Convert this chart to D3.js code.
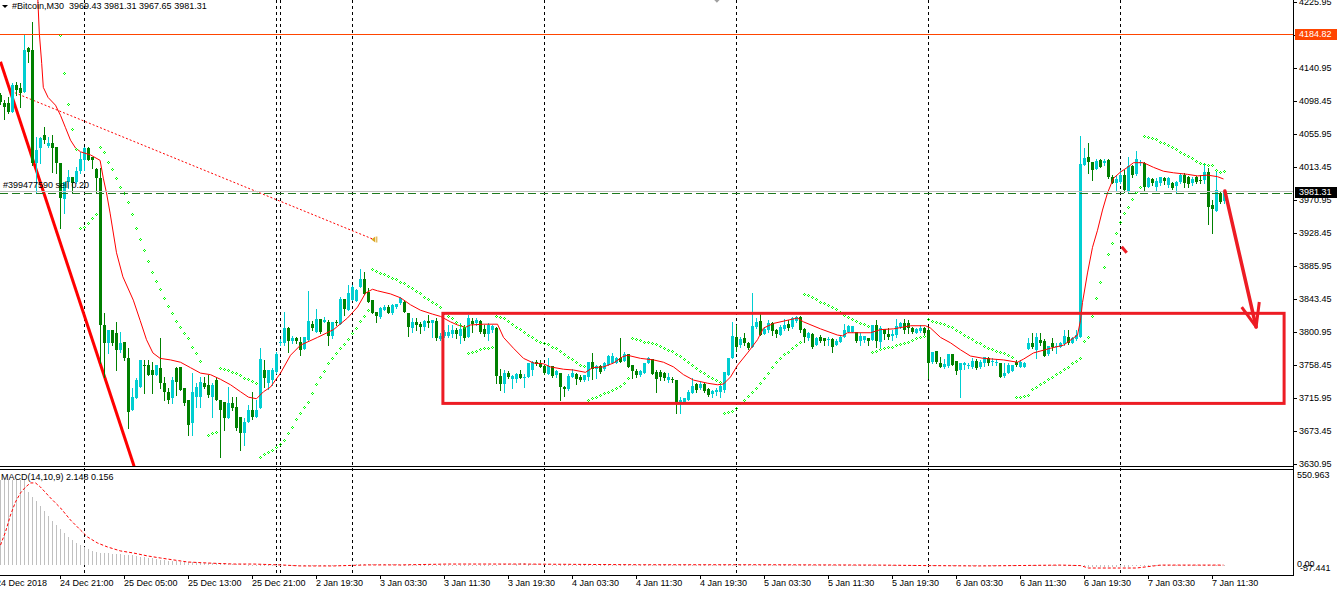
<!DOCTYPE html>
<html><head><meta charset="utf-8">
<script src="https://cdn.jsdelivr.net/npm/d3@7"></script>
<style>
html,body{margin:0;padding:0;background:#fff;overflow:hidden}
svg{display:block}
text{font-family:"Liberation Sans",Arial,sans-serif;font-size:9px;fill:#000}
</style></head><body><svg id="c" width="1341" height="593"></svg>
<script>
// ---------- DATA ----------
const openP = [4106,4096,4096,4084,4119,4115,4110,4167,4164,4019,
4038,4055,4040,4044,4039,4019,3972,3994,4001,3994,
4008,4022,4038,4026,4011,3999,3810,3787,3804,3800,
3778,3788,3767,3700,3716,3730,3758,3758,3752,3746,
3755,3735,3724,3716,3755,3756,3729,3713,3684,3717,
3717,3735,3733,3717,3739,3713,3711,3690,3709,3704,
3691,3671,3685,3700,3691,3703,3752,3735,3739,3749,
3787,3787,3806,3789,3793,3788,3779,3791,3811,3801,
3818,3814,3814,3796,3814,3811,3843,3829,3842,3841,
3859,3869,3852,3842,3827,3820,3829,3833,3825,3833,
3838,3839,3825,3806,3814,3811,3807,3815,3812,3815,
3792,3796,3796,3798,3804,3796,3806,3794,3815,3812,
3815,3805,3798,3804,3806,3744,3734,3748,3740,3740,
3747,3742,3743,3752,3762,3761,3757,3747,3757,3746,
3748,3730,3727,3743,3747,3743,3739,3743,3762,3753,
3757,3753,3758,3761,3761,3767,3764,3773,3758,3751,
3746,3748,3761,3766,3749,3749,3748,3739,3740,3739,
3711,3711,3713,3722,3734,3729,3734,3727,3721,3724,
3724,3726,3746,3767,3794,3784,3793,3787,3782,3807,
3815,3798,3804,3812,3804,3797,3805,3811,3807,3815,
3820,3805,3793,3798,3784,3794,3793,3791,3792,3784,
3788,3794,3801,3801,3801,3789,3791,3793,3791,3810,
3788,3805,3798,3796,3797,3807,3812,3812,3806,3800,
3802,3806,3804,3762,3776,3761,3756,3757,3773,3764,
3752,3758,3757,3756,3764,3756,3761,3767,3762,3761,
3761,3744,3748,3751,3762,3756,3756,3779,3787,3778,
3791,3789,3773,3787,3782,3782,3786,3794,3787,3792,
3794,4016,4026,4020,4011,4022,4019,4022,4001,3993,
3994,4003,3983,4015,4004,4019,4019,3988,3998,3988,
3993,3999,3990,3993,3989,3994,4003,4001,3993,4001,
3997,3997,4007,3964,3957,3980,3969.43];
const highP = [4109,4100,4104,4122,4123,4122,4183,4168,4200,4052,
4052,4065,4052,4055,4039,4019,3994,4010,4001,4013,
4033,4039,4039,4026,4012,4012,3825,3804,3804,3814,
3801,3788,3780,3729,3742,3765,3765,3765,3762,3758,
3793,3743,3729,3743,3756,3756,3729,3713,3748,3735,
3743,3743,3746,3735,3743,3713,3711,3730,3717,3717,
3691,3690,3707,3724,3713,3780,3765,3752,3755,3775,
3792,3827,3807,3796,3794,3794,3794,3854,3815,3830,
3818,3820,3816,3814,3816,3846,3843,3862,3862,3856,
3882,3878,3858,3842,3827,3833,3836,3836,3837,3837,
3846,3842,3825,3819,3819,3814,3816,3823,3816,3819,
3800,3804,3810,3810,3806,3812,3810,3823,3819,3819,
3816,3810,3812,3810,3807,3753,3752,3751,3746,3748,
3752,3747,3761,3764,3765,3765,3758,3767,3757,3752,
3748,3731,3747,3753,3748,3746,3746,3762,3774,3758,
3758,3762,3771,3774,3769,3793,3775,3773,3758,3753,
3752,3761,3769,3766,3752,3752,3749,3748,3743,3739,
3717,3716,3726,3742,3735,3736,3735,3729,3726,3729,
3733,3749,3767,3814,3810,3794,3800,3788,3851,3819,
3825,3807,3816,3814,3805,3810,3818,3816,3820,3821,
3821,3806,3801,3800,3794,3797,3793,3794,3793,3792,
3796,3811,3810,3809,3801,3800,3796,3793,3810,3816,
3809,3805,3806,3804,3818,3814,3818,3816,3807,3806,
3810,3807,3807,3775,3776,3769,3766,3773,3773,3764,
3761,3762,3761,3767,3766,3765,3769,3769,3767,3766,
3761,3761,3761,3758,3765,3765,3762,3793,3800,3800,
3800,3792,3783,3793,3787,3788,3804,3804,3794,3804,
4053,4038,4044,4020,4024,4024,4024,4024,4003,4002,
4010,4010,4026,4016,4034,4022,4020,4001,3999,3999,
4001,4001,4001,3994,3995,4006,4006,4002,4001,4002,
4003,4019,4012,3971,4007,3981,3981.31];
const lowP = [4095,4075,4083,4084,4106,4091,4110,4149,4016,3980,
4019,4044,4039,4007,4006,3935,3954,3986,3981,3993,
4006,4010,4022,4012,3981,3761,3743,3774,3784,3752,
3775,3765,3677,3700,3716,3730,3722,3746,3722,3746,
3729,3713,3709,3709,3720,3726,3707,3668,3668,3704,
3704,3729,3717,3691,3713,3640,3675,3690,3700,3675,
3649,3655,3685,3689,3691,3703,3730,3727,3733,3748,
3784,3784,3775,3787,3787,3771,3779,3791,3804,3801,
3800,3814,3784,3793,3810,3811,3823,3829,3842,3841,
3859,3850,3839,3825,3814,3819,3829,3825,3824,3832,
3837,3827,3796,3801,3804,3800,3804,3807,3794,3791,
3791,3794,3794,3794,3793,3787,3791,3794,3801,3810,
3800,3796,3791,3801,3735,3726,3724,3742,3729,3736,
3742,3730,3743,3746,3758,3756,3747,3747,3743,3743,
3713,3718,3726,3743,3734,3738,3738,3739,3740,3742,
3748,3752,3758,3761,3761,3762,3764,3756,3742,3743,
3744,3748,3761,3747,3724,3739,3739,3736,3736,3697,
3697,3711,3713,3722,3724,3727,3724,3718,3717,3720,
3717,3724,3746,3767,3776,3782,3784,3779,3782,3806,
3797,3798,3801,3797,3794,3797,3804,3804,3806,3814,
3801,3788,3791,3780,3784,3788,3784,3784,3775,3784,
3788,3794,3801,3801,3788,3784,3788,3784,3791,3782,
3782,3792,3792,3791,3794,3806,3800,3800,3800,3800,
3801,3797,3742,3761,3761,3756,3755,3756,3758,3747,
3717,3753,3755,3755,3753,3755,3757,3758,3758,3758,
3743,3743,3748,3751,3757,3756,3756,3779,3780,3767,
3784,3770,3771,3778,3774,3782,3784,3786,3787,3791,
3794,4016,4006,3997,4011,4013,4016,3999,3993,3984,
3993,3981,3981,4001,4003,4016,3983,3988,3990,3983,
3990,3992,3988,3985,3981,3993,3988,3988,3990,3993,
3993,3993,3940,3928,3957,3967,3967.65];
const closeP = [4097,4091,4084,4119,4113,4109,4164,4162,4019,4035,
4051,4048,4044,4038,4019,3973,3994,4001,3993,4008,
4024,4038,4022,4022,3999,3810,3787,3804,3787,3778,
3787,3767,3698,3717,3739,3765,3757,3746,3746,3758,
3735,3724,3713,3739,3736,3726,3709,3681,3724,3730,
3736,3730,3720,3733,3713,3700,3690,3709,3703,3677,
3671,3685,3700,3691,3700,3766,3742,3752,3752,3773,
3788,3806,3789,3793,3789,3778,3794,3815,3806,3818,
3801,3816,3796,3814,3812,3843,3830,3851,3859,3855,
3869,3850,3839,3825,3821,3832,3833,3825,3836,3837,
3845,3827,3807,3814,3810,3807,3815,3812,3816,3793,
3796,3801,3801,3804,3798,3805,3793,3819,3811,3816,
3801,3798,3810,3809,3744,3734,3748,3743,3744,3747,
3742,3743,3761,3762,3760,3756,3748,3757,3744,3751,
3730,3727,3744,3748,3740,3739,3746,3762,3753,3757,
3749,3761,3770,3770,3767,3762,3773,3756,3751,3746,
3751,3761,3767,3747,3740,3743,3742,3743,3739,3711,
3714,3716,3724,3731,3726,3734,3725,3720,3725,3726,
3731,3749,3767,3796,3782,3792,3787,3780,3809,3814,
3797,3805,3812,3802,3798,3807,3810,3806,3819,3820,
3804,3794,3800,3782,3793,3789,3789,3792,3782,3789,
3794,3804,3809,3809,3789,3796,3796,3789,3810,3789,
3806,3798,3794,3798,3809,3812,3804,3806,3801,3805,
3806,3800,3761,3775,3762,3756,3760,3773,3758,3751,
3761,3761,3758,3764,3755,3762,3769,3761,3764,3762,
3743,3748,3758,3758,3758,3762,3761,3787,3782,3794,
3787,3770,3783,3782,3783,3787,3796,3787,3793,3797,
4017,4025,4020,4010,4021,4013,4021,4001,3993,3998,
4003,3984,4015,4003,4024,4020,3988,3999,3993,3995,
4001,3995,3999,3986,3994,4003,3993,3992,3998,3994,
3995,4007,3962,3959,3984,3968,3981.31];
// Parabolic SAR (null = no dot)
const sar = [null,null,null,null,null,null,null,null,null,null,
null,null,null,null,null,4183,4135,4095,4062,4037,
3935,3936,3941,3948,3953,4039,4033,4020,4011,3999,
3988,3980,3968,3953,3935,3921,3907,3892,3878,3867,
3856,3845,3834,3825,3815,3807,3800,3793,3782,3774,
3764,null,3668,3671,3672,3755,3753,3752,3749,3748,
3746,3742,3740,3738,3735,3640,3644,3646,3649,3653,
3657,3662,3671,3679,3689,3697,3704,3711,3722,3734,
3743,3751,3761,3767,3774,3780,3786,3792,3800,3806,
3815,3821,3829,3882,3880,3877,3876,3873,3870,3869,
3865,3864,3860,3858,3854,3851,3846,3843,3839,3837,
3833,3825,3821,3819,3814,3810,3807,3774,3775,3776,
3779,3780,3780,3782,3821,3820,3819,3815,3811,3807,
3805,3801,3797,3794,3791,3788,3787,3786,3782,3780,
3776,3773,3769,3766,3762,3758,3757,3714,3716,3717,
3720,3722,3724,3726,3729,3731,3735,3742,3793,3792,
3791,3788,3788,3787,3786,3783,3780,3778,3776,3773,
3770,3766,3762,3758,3755,3751,3748,3744,3742,3739,
3736,3697,3698,3699,3703,3709,3714,3718,3724,3729,
3735,3742,3748,3756,3762,3767,3773,3775,3780,3784,
3788,3850,3849,3846,3843,3839,3838,3836,3833,3830,
3827,3823,3820,3818,3815,3812,3811,3809,3775,3776,
3779,3780,3782,3782,3784,3786,3787,3788,3791,3793,
3794,3796,3818,3815,3814,3812,3811,3809,3807,3804,
3801,3797,3794,3792,3788,3787,3783,3780,3779,3776,
3775,3774,3771,3769,3717,3717,3718,3720,3727,3730,
3734,3736,3740,3743,3747,3749,3753,3756,3761,3764,
3767,3789,3794,3821,3845,3865,3885,3901,3916,3928,
3943,3954,3962,3972,3981,3988,4053,4052,4051,4049,
4046,4044,4042,4039,4037,4033,4030,4028,4025,4021,
4019,4017,4016,4016,4010,4007,4008];
// Moving average: [bar, price]
const maLine = [[9.2,4245],[9.7,4186],[10.3,4147],[10.7,4116],[11.9,4103],[13.75,4093],[15,4080],[16.25,4064],[17.5,4048],[18.75,4038],[20,4033],[22.5,4029],[24.9,4022],[25.7,3999],[26.5,3980],[27.4,3954],[29,3903],[30.6,3872],[33.2,3842],[34.9,3816],[36.5,3791],[38.1,3774],[39.9,3767],[42.5,3765],[45,3762],[47.5,3755],[50,3748],[52.5,3746],[55,3740],[57.5,3733],[60,3724],[62,3717],[64,3715],[65.75,3724],[67.5,3730],[70,3748],[72.5,3771],[75,3784],[79.25,3794],[83.25,3804],[86.75,3819],[89.25,3833],[91.25,3851],[93,3856],[94.25,3854],[97.5,3850],[100,3845],[102.5,3836],[105,3829],[108,3824],[110,3821],[112.5,3814],[114.25,3810],[116.25,3807],[117.5,3810],[120.75,3811],[124.25,3811],[125.75,3794],[128.25,3780],[130.75,3767],[133.25,3761],[135.75,3760],[137.5,3756],[140.75,3753],[143.25,3752],[146.25,3749],[148,3755],[150.75,3756],[153.25,3761],[155.5,3769],[156.75,3771],[160,3767],[163.25,3765],[165.75,3762],[168.25,3756],[170.75,3746],[173.25,3739],[176.75,3735],[179.25,3733],[180.75,3734],[182.5,3743],[184.25,3758],[186.75,3774],[189.25,3791],[190.75,3806],[193.25,3812],[199.25,3819],[200.75,3814],[205,3805],[209.25,3797],[210.5,3796],[211.75,3800],[217.5,3800],[220,3804],[223.25,3805],[227.5,3809],[231.25,3809],[232.5,3806],[235,3794],[237.5,3787],[240,3778],[242.5,3770],[245.75,3767],[250.75,3765],[254.25,3762],[255.75,3766],[258.25,3774],[262.5,3780],[265.75,3784],[269.25,3797],[270,3816],[270.5,3839],[271.75,3877],[273,3910],[274.25,3932],[275.5,3958],[276.75,3980],[278.25,3999],[280,4007],[281.75,4013],[283.25,4019],[285.75,4019],[288.25,4013],[290.75,4008],[293.25,4006],[296.75,4004],[299.25,4002],[301.75,4003],[304.25,4001],[305.75,3998]];
// MACD histogram per bar
const macdHist = [493,493,493,493,493,493,493,424,395,371,
342,313,284,255,232,209,186,163,145,128,
116,105,93,82,76,70,70,70,64,64,
64,58,58,58,53,47,47,41,41,35,
30,30,24,24,24,18,18,18,18,18,
12,12,12,12,12,12,12,8,6,6,
6,4,2,2,2,2,2,2,2,2,
2,2,2,2,2,2,2,2,2,2,
2,2,2,2,2,2,3,3,4,4,
4,5,5,5,5,5,4,4,4,4,
3,3,3,3,3,3,3,3,3,3,
3,3,3,3,3,3,3,3,3,3,
3,3,3,3,3,4,5,6,8,9,
10,10,9,8,7,6,5,4,3,3,
2,2,2,2,2,2,2,2,2,2,
2,2,2,2,2,2,2,2,2,2,
2,2,2,2,2,2,2,2,2,2,
2,2,2,2,2,2,2,2,2,2,
2,2,2,2,2,2,2,2,2,2,
2,2,2,2,2,2,2,2,2,2,
2,2,2,2,2,2,2,2,2,2,
2,2,2,2,2,2,2,2,2,2,
2,2,2,2,2,2,2,2,2,2,
1,1,1,1,1,1,1,1,1,1,
1,1,1,1,1,1,1,1,1,1,
1,1,1,1,1,1,1,1,1,1,
1,1,1,1,1,1,1,1,1,1,
-3,-8,-10,-12,-12,-12,-12,-12,-12,-12,
-12,-12,-10,-8,-6,-4,-3,-2,-2,-2,
-1,-1,-1,-1,-1,-1,-1,-1,-1,-1,
-1,-1,-1,-1,-1,-1,-1];
// MACD signal line: [bar, value]
const macdSignal = [[0,116],[1.25,192],[2.5,290],[3.75,366],[5,418],[6.25,452],[7.5,476],[8.75,476],[10,452],[12.5,389],[15,331],[17.5,261],[20,203],[21.75,163],[24.25,128],[26.75,105],[30,82],[33.25,70],[36.75,53],[40,41],[43.25,30],[46.75,18],[51.75,12],[58.25,6],[63.25,6],[70,1],[75,-5],[83.25,-5],[91.75,1],[100,1],[111.75,6],[130,6],[160,2],[190,2],[220,0],[232,-3],[245,-5],[265,0],[270,-3],[272,-17],[280,-17],[284,-17],[290,0],[305.75,0]];
const priceTicks = [4225.95,4183.45,4140.95,4098.45,4055.95,4013.45,3970.95,3928.45,3885.95,3843.45,3800.95,3758.45,3715.95,3673.45,3630.95];
const priceDomain = [3630.95, 4225.95];
const macdDomain = [-57.441, 550.963];
const timeTickBars = [-1,15,31,47,63,79,95,111,127,143,159,175,191,207,223,239,255,271,287,303];
const timeTickLabels = ["24 Dec 2018","24 Dec 21:00","25 Dec 05:00","25 Dec 13:00","25 Dec 21:00","2 Jan 19:30","3 Jan 03:30","3 Jan 11:30","3 Jan 19:30","4 Jan 03:30","4 Jan 11:30","4 Jan 19:30","5 Jan 03:30","5 Jan 11:30","5 Jan 19:30","6 Jan 03:30","6 Jan 11:30","6 Jan 19:30","7 Jan 03:30","7 Jan 11:30"];
const daySeparatorBars = [21,69,70,88,136,184,232,280];
const levelPrice = 4184.82;
const bidPrice = 3981.31;
const orderPrice = 3980;
const titleText = "#Bitcoin,M30  3969.43 3981.31 3967.65 3981.31";
const macdText = "MACD(14,10,9) 2.148 0.156";
const orderText = "#399477590 sell 0.20";
// Drawn objects in [bar, price]
const thickTrend = [[0,4149],[33.4,3628]];
const dottedTrend = [[3.6,4109],[92.9,3921]];
const stopMark = [93.2,3920];
const boxZone = [[110.6,3825],[320.9,3709]];
const bigArrow = [[306.1,3982.5],[313.9,3807.4]];
const bigArrowHeadL = [310.3,3833];
const bigArrowHeadR = [314.7,3839.6];
const smallStroke = [[280.3,3910.8],[281.55,3903.1]];
const markerTop = [179.1,4229];

// ---------- LAYOUT ----------
const W = 1341, H = 593;
const plotRight = 1293;
const mainTop = 0, mainBottom = 466;
const macdTop = 469, macdBottom = 575;
const BULL = "#00CED1", BEAR = "#008000", SARC = "#00FF00", RED = "#ED1C24";

const svg = d3.select("#c");
const N = closeP.length;
const x = d3.scaleLinear().domain([0, N - 1]).range([0.5, 4 * (N - 1) + 0.5]);
const y = d3.scaleLinear().domain(priceDomain).range([464, 2]);
const ym = d3.scaleLinear().domain(macdDomain).range([575, 470]);

const defs = svg.append("defs");
defs.append("clipPath").attr("id","cm").append("rect").attr("x",0).attr("y",0).attr("width",plotRight).attr("height",mainBottom);
defs.append("clipPath").attr("id","cd").append("rect").attr("x",0).attr("y",macdTop+1).attr("width",plotRight).attr("height",macdBottom-macdTop-1);

svg.append("rect").attr("width",W).attr("height",H).attr("fill","#fff");

// day separators
svg.append("g").selectAll("line").data(daySeparatorBars).join("line")
  .attr("x1",d=>Math.floor(x(d))+0.5).attr("x2",d=>Math.floor(x(d))+0.5)
  .attr("y1",0).attr("y2",macdBottom)
  .attr("stroke","#000").attr("stroke-width",1).attr("stroke-dasharray","3,3")
  .attr("shape-rendering","crispEdges");

const gm = svg.append("g").attr("clip-path","url(#cm)");

// thick red trend line
const lineP = d3.line().x(d=>x(d[0])).y(d=>y(d[1]));
gm.append("path").attr("d",lineP(thickTrend)).attr("stroke","#FF0000").attr("stroke-width",3).attr("fill","none");
// dotted trend line
gm.append("path").attr("d",lineP(dottedTrend)).attr("stroke","#FF0000").attr("stroke-width",1).attr("stroke-dasharray","2,2").attr("fill","none");
// stop marker
{
  const sx = x(stopMark[0]), sy = y(stopMark[1]);
  gm.append("path").attr("d",`M${sx-2},${sy} L${sx+2},${sy-3} L${sx+2},${sy+3} Z M${sx+3},${sy-3} L${sx+4},${sy-3} L${sx+4},${sy+3} L${sx+3},${sy+3} Z`).attr("fill","#DAA520");
}

// candles
const idx = d3.range(N);
const cg = gm.append("g").attr("shape-rendering","crispEdges");
cg.selectAll("rect.w").data(idx).join("rect").attr("class","w")
  .attr("x",i=>Math.floor(x(i))).attr("width",1)
  .attr("y",i=>Math.round(y(highP[i])))
  .attr("height",i=>Math.max(1,Math.round(y(lowP[i]))-Math.round(y(highP[i]))+1))
  .attr("fill",i=>closeP[i]>=openP[i]?BULL:BEAR);
cg.selectAll("rect.b").data(idx).join("rect").attr("class","b")
  .attr("x",i=>Math.floor(x(i))-1).attr("width",3)
  .attr("y",i=>Math.round(y(Math.max(openP[i],closeP[i]))))
  .attr("height",i=>Math.max(1,Math.round(y(Math.min(openP[i],closeP[i])))-Math.round(y(Math.max(openP[i],closeP[i])))))
  .attr("fill",i=>closeP[i]>=openP[i]?BULL:BEAR);

// moving average
gm.append("path").attr("d",lineP(maLine)).attr("stroke","#FF0000").attr("stroke-width",1).attr("fill","none");

// SAR dots (hollow diamonds)
gm.append("g").selectAll("path").data(idx.filter(i=>sar[i]!=null)).join("path")
  .attr("d",i=>{const cx=Math.floor(x(i)), cy=Math.round(y(sar[i]));
    return `M${cx-1},${cy}h1v1h-1zM${cx+1},${cy}h1v1h-1zM${cx},${cy-1}h1v1h-1zM${cx},${cy+1}h1v1h-1z`;})
  .attr("fill",SARC).attr("shape-rendering","crispEdges");

// horizontal level lines
gm.append("line").attr("x1",0).attr("x2",plotRight).attr("y1",Math.round(y(levelPrice))+0.5).attr("y2",Math.round(y(levelPrice))+0.5).attr("stroke","#FF4500").attr("shape-rendering","crispEdges");
gm.append("line").attr("x1",0).attr("x2",plotRight).attr("y1",Math.round(y(orderPrice))+0.5).attr("y2",Math.round(y(orderPrice))+0.5).attr("stroke","#1E7A1E").attr("stroke-dasharray","8,4").attr("shape-rendering","crispEdges");
gm.append("line").attr("x1",0).attr("x2",plotRight).attr("y1",Math.round(y(bidPrice))-0.5).attr("y2",Math.round(y(bidPrice))-0.5).attr("stroke","#C0C0C0").attr("shape-rendering","crispEdges");
gm.append("text").attr("x",3).attr("y",y(orderPrice)-7).attr("dominant-baseline","middle").text(orderText).attr("fill","#333");

// box zone
gm.append("rect").attr("x",x(boxZone[0][0])).attr("y",y(boxZone[0][1]))
  .attr("width",x(boxZone[1][0])-x(boxZone[0][0])).attr("height",y(boxZone[1][1])-y(boxZone[0][1]))
  .attr("fill","none").attr("stroke",RED).attr("stroke-width",3);
// big arrow
gm.append("path").attr("d",lineP(bigArrow)).attr("stroke",RED).attr("stroke-width",3.5).attr("fill","none").attr("stroke-linecap","round");
gm.append("path").attr("d",lineP([bigArrowHeadL,bigArrow[1],bigArrowHeadR])).attr("stroke",RED).attr("stroke-width",3).attr("fill","none").attr("stroke-linejoin","round");
gm.append("path").attr("d",lineP(smallStroke)).attr("stroke",RED).attr("stroke-width",3).attr("fill","none");
// top marker
{
  const mx = x(markerTop[0]), my = y(markerTop[1]);
  gm.append("path").attr("d",`M${mx-3},${my} L${mx},${my-3} L${mx+3},${my} L${mx},${my+3} Z`).attr("fill","#A0A0A0");
}

// MACD panel
const gd = svg.append("g").attr("clip-path","url(#cd)");
gd.append("g").attr("shape-rendering","crispEdges").selectAll("rect").data(idx).join("rect")
  .attr("x",i=>Math.floor(x(i))).attr("width",1)
  .attr("y",i=>Math.round(Math.min(ym(0),ym(macdHist[i]))))
  .attr("height",i=>Math.max(1,Math.round(Math.abs(ym(0)-ym(macdHist[i])))))
  .attr("fill","#C0C0C0");
gd.append("path").attr("d",d3.line().x(d=>x(d[0])).y(d=>ym(d[1]))(macdSignal))
  .attr("stroke","#FF0000").attr("stroke-width",1).attr("stroke-dasharray","3,2").attr("fill","none");

// frames
const fr = svg.append("g").attr("stroke","#000").attr("shape-rendering","crispEdges");
fr.append("line").attr("x1",0).attr("x2",plotRight).attr("y1",mainBottom+0.5).attr("y2",mainBottom+0.5);
fr.append("line").attr("x1",0).attr("x2",plotRight).attr("y1",macdTop+0.5).attr("y2",macdTop+0.5);
fr.append("line").attr("x1",0).attr("x2",plotRight).attr("y1",macdBottom+0.5).attr("y2",macdBottom+0.5);
fr.append("line").attr("x1",plotRight+0.5).attr("x2",plotRight+0.5).attr("y1",0).attr("y2",macdBottom+1);

// right price axis
const ax = svg.append("g");
ax.selectAll("line").data(priceTicks).join("line")
  .attr("x1",plotRight).attr("x2",plotRight+4).attr("y1",d=>Math.round(y(d))+0.5).attr("y2",d=>Math.round(y(d))+0.5)
  .attr("stroke","#000").attr("shape-rendering","crispEdges");
ax.selectAll("text").data(priceTicks).join("text")
  .attr("x",plotRight+6).attr("y",d=>y(d)+0.5).attr("dominant-baseline","middle").text(d=>d.toFixed(2));
// value boxes
function valueBox(price, bg){
  const cy = Math.round(y(price));
  svg.append("rect").attr("x",plotRight+2).attr("y",cy-5).attr("width",42).attr("height",11).attr("fill",bg).attr("shape-rendering","crispEdges");
  svg.append("text").attr("x",plotRight+6).attr("y",cy+0.5).attr("dominant-baseline","middle").attr("fill","#fff").style("fill","#fff").text(price.toFixed(2));
}
valueBox(levelPrice,"#FF4500");
valueBox(bidPrice,"#000");
// MACD axis labels
svg.append("text").attr("x",plotRight+4).attr("y",ym(macdDomain[1])+6).attr("dominant-baseline","middle").text(macdDomain[1].toFixed(3));
svg.append("text").attr("x",plotRight+7).attr("y",ym(macdDomain[0])-6).attr("dominant-baseline","middle").text(macdDomain[0].toFixed(3));
svg.append("text").attr("x",plotRight+4).attr("y",ym(0)).attr("dominant-baseline","middle").text("0.00");

// time axis
const tx = svg.append("g");
tx.selectAll("line").data(timeTickBars).join("line")
  .attr("x1",d=>Math.floor(x(d))+0.5).attr("x2",d=>Math.floor(x(d))+0.5).attr("y1",macdBottom).attr("y2",macdBottom+4)
  .attr("stroke","#000").attr("shape-rendering","crispEdges");
tx.selectAll("text").data(timeTickBars).join("text")
  .attr("x",d=>Math.floor(x(d))).attr("y",584).attr("dominant-baseline","middle").text((d,k)=>timeTickLabels[k]);

// titles
svg.append("path").attr("d","M2,5 L8,5 L5,8 Z").attr("fill","#000");
svg.append("text").attr("x",12).attr("y",7).attr("dominant-baseline","middle").text(titleText).attr("xml:space","preserve").style("white-space","pre");
svg.append("text").attr("x",1).attr("y",478).attr("dominant-baseline","middle").text(macdText);
</script></body></html>
